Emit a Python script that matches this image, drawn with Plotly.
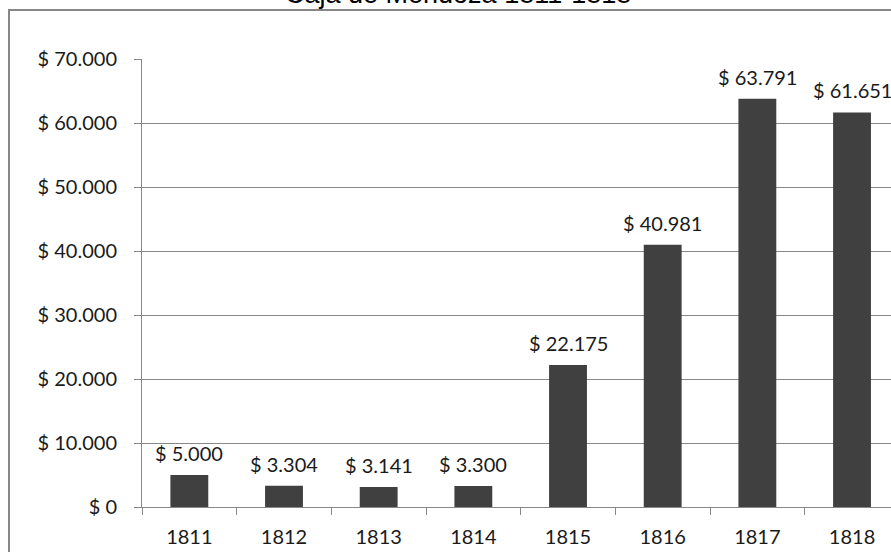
import plotly.graph_objects as go

years = ["1811", "1812", "1813", "1814", "1815", "1816", "1817", "1818"]
values = [5000, 3304, 3141, 3300, 22175, 40981, 63791, 61651]
value_labels = ["$ 5.000", "$ 3.304", "$ 3.141", "$ 3.300", "$ 22.175", "$ 40.981", "$ 63.791", "$ 61.651"]
y_tickvals = [0, 10000, 20000, 30000, 40000, 50000, 60000, 70000]
y_ticktext = ["$ 0", "$ 10.000", "$ 20.000", "$ 30.000", "$ 40.000", "$ 50.000", "$ 60.000", "$ 70.000"]
title_text = "Caja de Mendoza 1811-1818"

W, H = 891, 552
L, T, B = 142, 59, 45
R = 0
plot_w = W - L - R
plot_h = H - T - B
cat_px = 94.67
x_max = -0.5 + plot_w / cat_px

FONT = "Lato"
FS = 20
GRID = "#888888"
TXT = "#1a1a1a"

fig = go.Figure()
fig.add_trace(go.Bar(
    x=years, y=values,
    marker=dict(color="#404040", line=dict(width=0)),
    width=0.4,
    hoverinfo="skip",
))

for i, (v, lab) in enumerate(zip(values, value_labels)):
    fig.add_annotation(
        x=i, y=v, xref="x", yref="y", text=lab, showarrow=False,
        yanchor="middle", xanchor="center", yshift=22,
        font=dict(family=FONT, size=FS, color=TXT),
    )

# title (clipped at the top like the reference)
fig.add_annotation(
    x=(458 - L) / plot_w, y=(H - B + 6) / plot_h, xref="paper", yref="paper",
    text=title_text, showarrow=False, yanchor="middle", xanchor="center",
    font=dict(family="Liberation Sans", size=27, color="#000000"),
)

# outer chart border
fig.add_shape(
    type="rect", xref="paper", yref="paper",
    x0=(9 - L) / plot_w, x1=1.2,
    y0=-0.3, y1=(H - B - 10) / plot_h,
    line=dict(color="#878787", width=2), fillcolor="rgba(0,0,0,0)", layer="above",
)

fig.update_layout(
    width=W, height=H,
    margin=dict(l=L, r=R, t=T, b=B, pad=0),
    paper_bgcolor="white", plot_bgcolor="white",
    showlegend=False,
    font=dict(family=FONT, size=FS, color=TXT),
)
fig.update_xaxes(
    type="category", range=[-0.5, x_max],
    showline=True, linecolor=GRID, linewidth=1,
    ticks="outside", tickson="boundaries", ticklen=7, tickcolor=GRID, tickwidth=1,
    showgrid=False, ticklabelstandoff=12,
    tickfont=dict(family=FONT, size=FS, color=TXT),
)
fig.update_yaxes(
    range=[0, 70000], tickvals=y_tickvals, ticktext=y_ticktext,
    showline=True, linecolor=GRID, linewidth=1,
    ticks="outside", ticklen=7, tickcolor=GRID, tickwidth=1,
    showgrid=True, gridcolor=GRID, gridwidth=1, zeroline=False,
    ticklabelstandoff=13,
    tickfont=dict(family=FONT, size=FS, color=TXT),
)

fig.write_html(
    "out.html",
    config={"displayModeBar": False},
    post_script="document.body.style.margin='0';document.documentElement.style.overflow='hidden';",
)
